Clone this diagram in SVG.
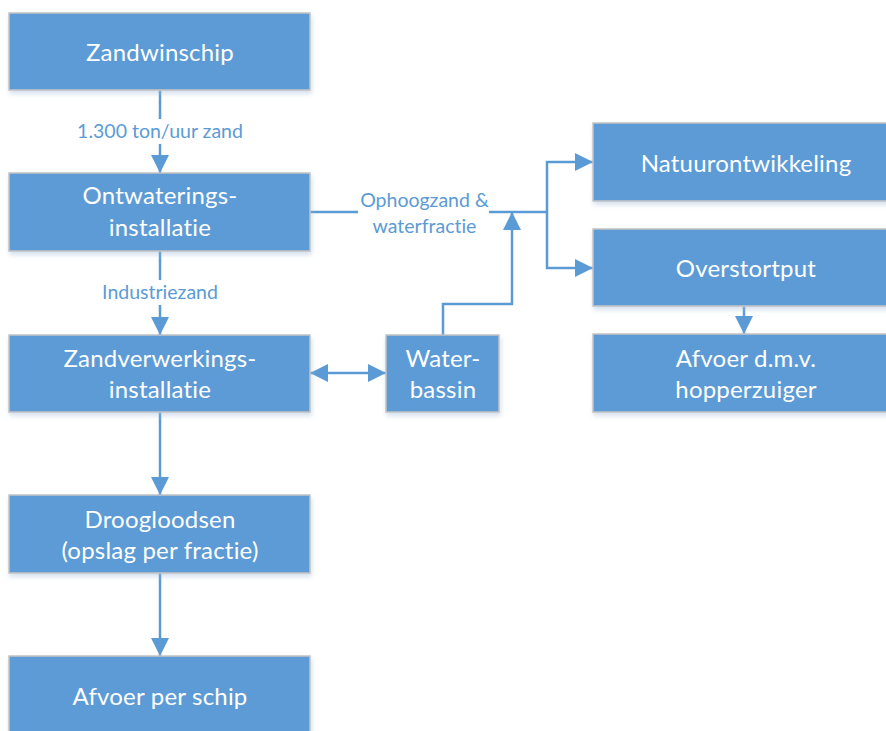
<svg xmlns="http://www.w3.org/2000/svg" width="886" height="731" viewBox="0 0 886 731">
<style>
.box{fill:#5b9bd5;stroke:#c4c4c4;stroke-width:1.5;filter:url(#sh)}
text{font-family:Lato,"Open Sans",sans-serif;font-variant-ligatures:none;font-feature-settings:"liga" 0,"clig" 0;text-anchor:middle}
.bt{fill:#ffffff;font-size:24px;letter-spacing:0.2px}
.lbl{fill:#5b9bd5;font-size:19.5px}
.ln{fill:none;stroke:#5b9bd5;stroke-width:2.5}
.arr{marker-end:url(#ah)}
.bg{fill:#ffffff}
</style>
<defs>
<filter id="sh" x="-10%" y="-20%" width="120%" height="150%">
<feDropShadow dx="1" dy="3" stdDeviation="2.5" flood-color="#9db8d6" flood-opacity="0.45"/>
</filter>
<marker id="ah" markerUnits="userSpaceOnUse" markerWidth="18" markerHeight="18" viewBox="0 0 18 18" refX="18" refY="9" orient="auto">
<path d="M0,0 L18,9 L0,18 Z" fill="#5b9bd5"/>
</marker>
<marker id="ahs" markerUnits="userSpaceOnUse" markerWidth="18" markerHeight="18" viewBox="0 0 18 18" refX="18" refY="9" orient="auto-start-reverse">
<path d="M0,0 L18,9 L0,18 Z" fill="#5b9bd5"/>
</marker>
</defs>
<rect width="886" height="731" fill="#ffffff"/>

<g id="connectors">
<line class="ln arr" x1="160" y1="90" x2="160" y2="173"/>
<rect class="bg" x="74" y="119" width="172" height="25"/>
<text class="lbl" x="160" y="138">1.300 ton/uur zand</text>

<line class="ln arr" x1="160" y1="251" x2="160" y2="335"/>
<rect class="bg" x="98" y="280" width="124" height="25"/>
<text class="lbl" x="160" y="299">Industriezand</text>

<line class="ln arr" x1="160" y1="412" x2="160" y2="495"/>
<line class="ln arr" x1="160" y1="573" x2="160" y2="656"/>

<polyline class="ln" points="310,212 547,212"/>
<polyline class="ln arr" points="547,212 547,162 593,162"/>
<polyline class="ln arr" points="547,212 547,268 593,268"/>
<rect class="bg" x="358" y="190" width="131" height="46"/>
<text class="lbl" x="424.5" y="207">Ophoogzand &amp;</text>
<text class="lbl" x="424.5" y="233">waterfractie</text>

<polyline class="ln arr" points="443,335 443,304 512,304 512,212"/>

<line class="ln" x1="310" y1="373" x2="386" y2="373" marker-start="url(#ahs)" marker-end="url(#ahs)"/>

<line class="ln arr" x1="744" y1="306" x2="744" y2="334"/>
</g>

<g id="zandwinschip">
<rect class="box" x="9" y="13" width="301" height="77"/>
<text class="bt" x="160" y="61">Zandwinschip</text>
</g>
<g id="ontwatering">
<rect class="box" x="9" y="173" width="301" height="78"/>
<text class="bt" x="160" y="204">Ontwaterings-</text>
<text class="bt" x="160" y="236">installatie</text>
</g>
<g id="zandverwerking">
<rect class="box" x="9" y="335" width="301" height="77"/>
<text class="bt" x="160" y="367">Zandverwerkings-</text>
<text class="bt" x="160" y="398">installatie</text>
</g>
<g id="droogloodsen">
<rect class="box" x="9" y="495" width="301" height="78"/>
<text class="bt" x="160" y="528">Droogloodsen</text>
<text class="bt" x="160" y="559">(opslag per fractie)</text>
</g>
<g id="afvoer-schip">
<rect class="box" x="9" y="656" width="301" height="80"/>
<text class="bt" x="160" y="705">Afvoer per schip</text>
</g>
<g id="waterbassin">
<rect class="box" x="386" y="335" width="113" height="77"/>
<text class="bt" x="443" y="367">Water-</text>
<text class="bt" x="443" y="398">bassin</text>
</g>
<g id="natuurontwikkeling">
<rect class="box" x="593" y="123" width="304" height="78"/>
<text class="bt" x="746" y="172">Natuurontwikkeling</text>
</g>
<g id="overstortput">
<rect class="box" x="593" y="229" width="304" height="77"/>
<text class="bt" x="746" y="277">Overstortput</text>
</g>
<g id="afvoer-hopper">
<rect class="box" x="593" y="334" width="304" height="78"/>
<text class="bt" x="746" y="367">Afvoer d.m.v.</text>
<text class="bt" x="746" y="398">hopperzuiger</text>
</g>
</svg>
